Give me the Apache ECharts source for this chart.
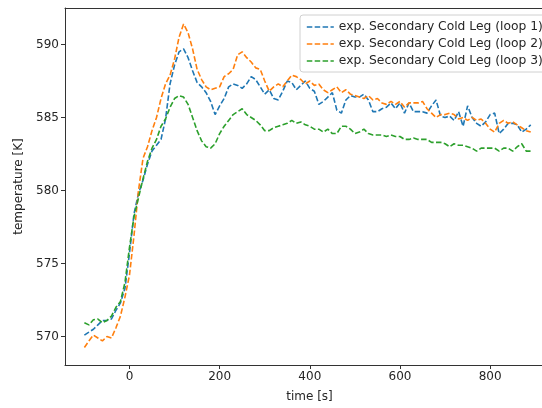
<!DOCTYPE html>
<html>
<head>
<meta charset="utf-8">
<script src="https://cdn.jsdelivr.net/npm/echarts@6/dist/echarts.min.js"></script>
<style>html,body{margin:0;padding:0;background:#fff}#c{width:542px;height:408px}</style>
</head>
<body>
<div id="c"></div>
<script>
var times = [];
for (var i = 0; i < 100; i++) times.push(-100 + 10 * i);

var loop1 = [570.1,570.3,570.5,570.8,571.1,571.1,571.2,571.8,572.3,573.3,
575.7,578.4,579.8,580.7,581.8,582.7,583.1,583.5,584.9,587.3,
588.6,589.5,589.7,589.1,588.2,587.4,587.1,586.7,586.1,585.2,
585.8,586.3,587.1,587.3,587.2,587.0,587.3,587.8,587.6,587.1,
586.6,586.9,586.3,586.2,586.8,587.5,587.4,586.9,587.2,587.5,
587.0,586.8,585.9,586.1,586.4,586.7,585.5,585.3,586.2,586.5,
586.4,586.4,586.6,586.2,585.4,585.4,585.6,585.7,586.0,585.6,
586.0,585.3,586.0,585.4,585.4,585.4,585.3,585.8,586.2,585.1,
585.0,585.1,584.8,585.4,584.4,585.8,585.0,584.6,584.4,584.7,
585.2,585.3,583.9,584.2,584.6,584.6,584.5,584.0,584.2,584.5];

var loop2 = [569.25,569.7,570.1,569.9,569.7,570.0,569.9,570.6,571.4,572.7,
574.2,576.9,580.0,582.2,583.0,584.1,585.0,586.3,587.3,587.9,
589.0,590.5,591.4,590.8,589.7,588.3,587.6,587.1,586.9,587.0,
587.1,587.8,588.0,588.3,589.3,589.5,589.1,588.8,588.4,588.3,
587.5,586.8,587.1,587.3,587.1,587.5,587.9,587.8,587.6,587.3,
587.5,587.2,587.3,586.9,586.7,586.9,587.1,586.7,586.9,586.6,
586.5,586.4,586.3,586.5,586.2,586.3,586.0,585.9,586.1,585.9,
586.1,585.7,586.0,586.0,586.0,586.1,585.6,585.3,585.0,585.2,
585.2,585.3,585.2,584.9,585.0,584.8,585.0,584.8,584.9,584.6,
584.2,584.0,584.6,584.8,584.6,584.7,584.5,584.3,584.1,584.0];

var loop3 = [570.95,570.8,571.15,571.2,570.95,571.1,571.4,572.0,572.4,573.7,
576.1,578.2,579.5,580.8,582.0,582.9,583.5,584.4,584.9,585.7,
586.3,586.5,586.4,585.9,585.0,584.1,583.4,583.0,582.9,583.2,
583.9,584.4,584.8,585.2,585.4,585.6,585.2,585.0,584.8,584.5,
584.1,584.1,584.3,584.4,584.5,584.6,584.8,584.6,584.7,584.5,
584.4,584.2,584.2,584.0,584.2,583.9,583.9,584.4,584.4,584.2,
583.9,584.0,584.2,583.9,583.8,583.8,583.8,583.7,583.8,583.7,
583.7,583.5,583.5,583.6,583.5,583.5,583.5,583.3,583.3,583.3,
583.2,583.0,583.2,583.1,583.1,583.0,582.9,582.7,582.9,582.9,
582.9,582.9,582.7,582.9,582.9,582.7,583.0,583.2,582.7,582.7];

var names = ['exp. Secondary Cold Leg (loop 1)','exp. Secondary Cold Leg (loop 2)','exp. Secondary Cold Leg (loop 3)'];
var colors = ['#1f77b4','#ff7f0e','#2ca02c'];
var xTicks = [0,200,400,600,800];
var yTicks = [570,575,580,585,590];

function pairs(v){ return times.map(function(t,i){ return [t, v[i]]; }); }

var font = 'DejaVu Sans';
var txt = '#262626';
var fs = 12;
var chart = echarts.init(document.getElementById('c'), null, {renderer:'canvas'});
var series = [loop1, loop2, loop3].map(function(v, k){
  return {
    name: names[k], type: 'line', data: pairs(v), showSymbol: false, symbol: 'none',
    lineStyle: { color: colors[k], width: 1.6, type: [5.5, 2.4] },
    itemStyle: { color: colors[k] }, animation: false, z: 3, clip: true
  };
});

chart.setOption({
  animation: false,
  textStyle: { fontFamily: font },
  grid: { left: 65, right: 0, top: 8, bottom: 40, containLabel: false },
  legend: {
    data: names, left: 300, top: 15, orient: 'vertical',
    itemWidth: 27, itemHeight: 10, itemGap: 5,
    padding: [6, 6, 5, 6],
    backgroundColor: 'rgba(255,255,255,0.85)', borderColor: '#d0d0d0', borderWidth: 1, borderRadius: 3,
    textStyle: { fontFamily: font, fontSize: 12.3, color: txt },
    itemStyle: { opacity: 0 },
    lineStyle: { width: 1.6, type: [5.5, 2.4] }
  },
  xAxis: [{
    type: 'value', min: -143, max: 915,
    name: 'time [s]', nameLocation: 'middle', nameGap: 26,
    nameTextStyle: { fontFamily: font, fontSize: fs, color: txt, padding: [0, 0, 0, 12] },
    axisLine: { show: true, onZero: false, lineStyle: { color: '#333', width: 1 } },
    axisTick: { show: true, inside: false, length: 4, lineStyle: { color: '#333' },
      customValues: xTicks },
    axisLabel: { fontFamily: font, fontSize: fs, color: txt, margin: 6,
      customValues: xTicks },
    splitLine: { show: false }
  }, {
    type: 'value', position: 'top', min: -143, max: 915,
    axisLine: { show: true, onZero: false, lineStyle: { color: '#333', width: 1 } },
    axisTick: { show: false }, axisLabel: { show: false }, splitLine: { show: false }
  }],
  yAxis: {
    type: 'value', min: 568.05, max: 592.5,
    name: 'temperature [K]', nameLocation: 'middle', nameGap: 40, nameRotate: 90,
    nameTextStyle: { fontFamily: font, fontSize: fs, color: txt },
    axisLine: { show: true, onZero: false, lineStyle: { color: '#333', width: 1 } },
    axisTick: { show: true, length: 4, lineStyle: { color: '#333' }, customValues: yTicks },
    axisLabel: { fontFamily: font, fontSize: fs, color: txt, margin: 6, customValues: yTicks },
    splitLine: { show: false }
  },
  series: series
});
</script>
</body>
</html>
